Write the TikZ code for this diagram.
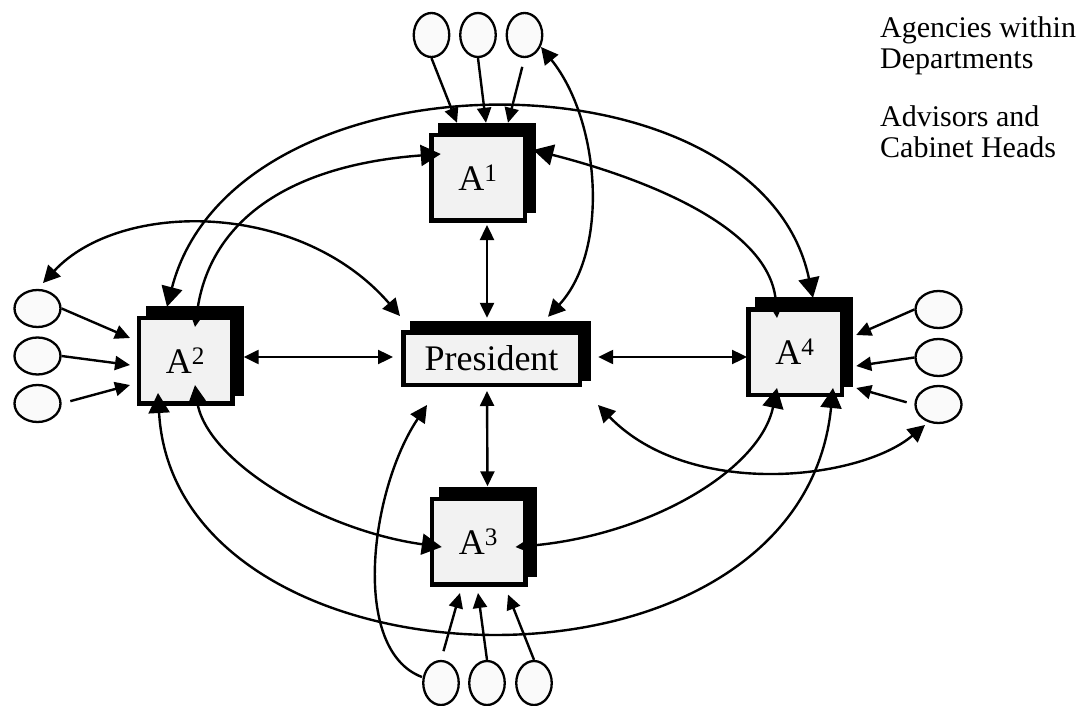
\documentclass[tikz,border=0pt]{standalone}
\usepackage{fontspec}
\setmainfont{Liberation Serif}
\usetikzlibrary{arrows.meta,calc,shapes.geometric}
\tikzset{
  tipS/.tip={Triangle[length=15pt,width=14pt]},
  tipM/.tip={Triangle[length=17pt,width=17pt]},
  tipL/.tip={Triangle[length=20pt,width=21pt]},
}
\begin{document}
\begin{tikzpicture}[x=1pt,y=-1pt,
  office/.style={draw=black,line width=4.5pt,fill=gray!10,inner sep=0pt,
    minimum width=93.5pt,minimum height=85.5pt,font=\fontsize{36}{40}\selectfont},
  officeshadow/.style={fill=black,inner sep=0pt,minimum width=98pt,minimum height=90pt},
  agency/.style={ellipse,draw=black,line width=2.3pt,fill=gray!4,inner sep=0pt,
    minimum width=35.5pt,minimum height=44pt},
  sideagency/.style={agency,minimum width=46pt,minimum height=37pt},
  link/.style={line width=2.4pt},
  legend/.style={anchor=base west,inner sep=0pt,font=\fontsize{30}{34}\selectfont},
]
\useasboundingbox (0,0) rectangle (1088,706);

% offices: black back plate first, then the framed front plate
\node[officeshadow] (a1b) at (487,168) {};
\node[office] (a1) at (478,178) {A\textsuperscript{1}};
\node[officeshadow] (a2b) at (194.5,350.5) {};
\node[office] (a2) at (185.5,360.5) {A\textsuperscript{2}};
\node[officeshadow] (a3b) at (487.5,531.5) {};
\node[office] (a3) at (478.5,541.5) {A\textsuperscript{3}};
\node[officeshadow] (a4b) at (804,342) {};
\node[office] (a4) at (795,352) {A\textsuperscript{4}};
\node[officeshadow,minimum width=181pt,minimum height=60pt] (presb) at (500.5,351) {};
\node[office,minimum width=176.5pt,minimum height=52.5pt,
  font=\fontsize{36}{40}\selectfont] (pres) at (491.5,358.5) {President};

% agencies around each office
\node[agency] (t1) at (431.5,35) {};
\node[agency] (t2) at (478,35) {};
\node[agency] (t3) at (524.5,35) {};
\node[sideagency] (l1) at (37.5,308.5) {};
\node[sideagency] (l2) at (37.5,356) {};
\node[sideagency] (l3) at (37.5,403.5) {};
\node[sideagency] (r1) at (938.5,309.5) {};
\node[sideagency] (r2) at (938.5,357.5) {};
\node[sideagency] (r3) at (938.5,404.5) {};
\node[agency] (b1) at (441,683) {};
\node[agency] (b2) at (487,683) {};
\node[agency] (b3) at (534,683) {};

% legend
\node[legend] (leg1) at (880,38) {Agencies within};
\node[legend] (leg2) at (880,69) {Departments};
\node[legend] (leg3) at (880,127) {Advisors and};
\node[legend] (leg4) at (880,158) {Cabinet Heads};

% agencies reporting to their office
\draw[link,-tipS] (t1.south) -- ($(a1b.north)+(-30,0)$);
\draw[link,-tipS] (t2.south) -- ($(a1b.north)+(-1,0)$);
\draw[link,-tipS,shorten <=9pt] (t3.south) -- ($(a1b.north)+(21,0)$);
\draw[link,-tipS] (l1.east) -- ($(a2.west)+(-6.5,-22.5)$);
\draw[link,-tipS] (l2.east) -- ($(a2.west)+(-6.5,4.5)$);
\draw[link,-tipS,shorten <=9pt] (l3.east) -- ($(a2.west)+(-6.5,24.5)$);
\draw[link,-tipS] (r1.west) -- ($(a4b.east)+(3,-7)$);
\draw[link,-tipS] (r2.west) -- ($(a4b.east)+(3,24)$);
\draw[link,-tipS,shorten <=8pt] (r3.west) -- ($(a4b.east)+(3,46)$);
\draw[link,-tipS,shorten <=9pt] (b1.north) -- ($(a3.south)+(-18.5,6.5)$);
\draw[link,-tipS] (b2.north) -- ($(a3.south)+(-0.5,6.5)$);
\draw[link,-tipS] (b3.north) -- ($(a3.south)+(29.5,8)$);

% direct lines between the President and each office
\draw[link,tipS-tipS] ($(a1.south)+(9,2)$) -- ($(presb.north)+(-13.5,-3)$);
\draw[link,tipS-tipS] ($(pres.south)+(-4.5,4)$) -- (a3b.north);
\draw[link,tipS-tipS] ($(a2b.east)+(0,6.5)$) -- ($(pres.west)+(-8,-1.5)$);
\draw[link,tipS-tipS] ($(presb.east)+(7,6)$) -- ($(a4.west)+(1,5)$);

% curved links
\draw[link,tipM-tipM] ($(t3)+(16.5,12)$) .. controls (600,120) and (610,250) .. ($(presb.north)+(47.5,-4)$);
\draw[link,tipL-tipL] ($(a2b.north)+(-27.5,1.5)$) .. controls (235,45) and (760,45) .. ($(a4b.north)+(9,1)$);
\draw[link,tipM-tipL] ($(a2.north)+(9.5,11.5)$) .. controls (210,220) and (290,165) .. ($(a1b.west)+(3,-14)$);
\draw[link,tipL-tipM] ($(a1b.east)+(-3,-18)$) .. controls (620,172) and (770,220) .. ($(a4.north)+(-18,11)$);
\draw[link,tipM-tipM] ($(l1)+(5.5,-25.5)$) .. controls (120,200) and (300,200) .. ($(pres.north west)+(-1,-14)$);
\draw[link,tipM-tipL] ($(a2.south)+(9.5,-20.5)$) .. controls (205,460) and (320,530) .. ($(a3b.west)+(3.5,15.5)$);
\draw[link,tipM-tipL] ($(a3.east)+(-12,5.5)$) .. controls (650,535) and (760,470) .. ($(a4.south)+(-18,-9)$);
\draw[link,tipL-tipL] ($(a2.south)+(-27.5,-12.5)$) .. controls (175,700) and (800,720) .. ($(a4.south)+(38,-9)$);
\draw[link,tipM-] ($(pres.south)+(-64.5,18)$) .. controls (370,490) and (350,650) .. ($(b1)+(-19,-6)$);
\draw[link,tipM-tipM] ($(pres.south east)+(16,18)$) .. controls (690,500) and (860,480) .. ($(r3)+(-13.5,20.5)$);
\end{tikzpicture}
\end{document}
